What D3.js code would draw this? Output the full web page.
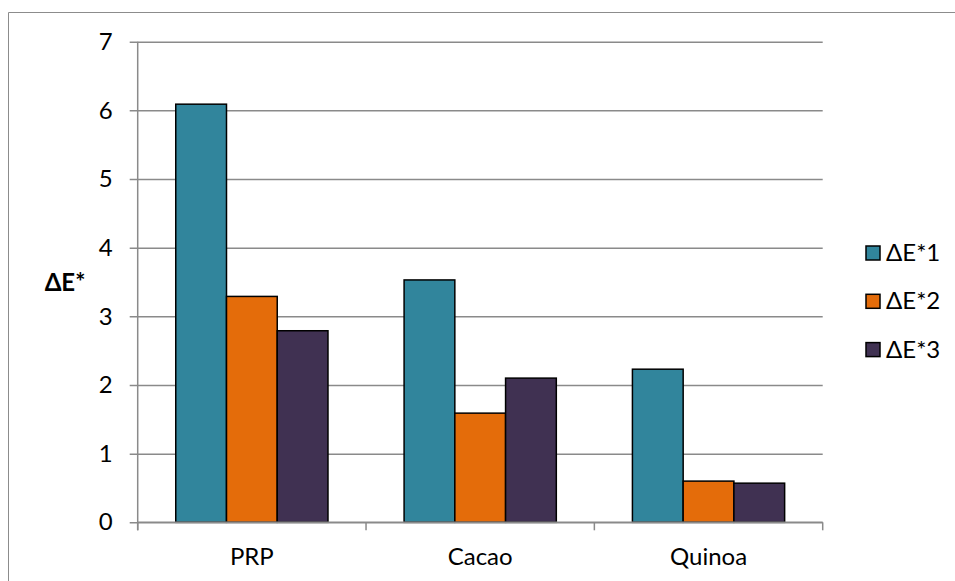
<!DOCTYPE html>
<html>
<head>
<meta charset="utf-8">
<script src="https://cdn.jsdelivr.net/npm/d3@7"></script>
<style>
  html, body { margin: 0; padding: 0; background: #fff; }
  svg { display: block; font-family: Lato, "Open Sans", sans-serif; }
</style>
</head>
<body>
<svg id="chart" width="955" height="581"></svg>
<script>
// Colour difference per sample and measurement
const categories = ["PRP", "Cacao", "Quinoa"];
const seriesNames = ["ΔE*1", "ΔE*2", "ΔE*3"];
const dE1 = [6.09, 3.53, 2.23];
const dE2 = [3.29, 1.59, 0.60];
const dE3 = [2.79, 2.10, 0.57];
const yTicks = [0, 1, 2, 3, 4, 5, 6, 7];
const seriesColors = ["#31859C", "#E46C0A", "#403152"];

const seriesValues = [dE1, dE2, dE3];

const svg = d3.select("#chart");
const plot = { left: 137.7, right: 822.7, top: 41.7, bottom: 522.3 };
const fontSize = 24;

// Outer frame of the chart area
svg.append("path")
  .attr("d", "M8.5,581 V12.5 H955")
  .attr("fill", "none")
  .attr("stroke", "#8c8c8c")
  .attr("stroke-width", 1);

const x = d3.scaleBand().domain(categories).range([plot.left, plot.right]).paddingInner(0).paddingOuter(0);
const y = d3.scaleLinear().domain([0, 7]).range([plot.bottom, plot.top]);
// Bars fill 3 of 4.5 slots in each band (gap width 150%)
const inner = d3.scaleBand().domain(seriesNames)
  .range([x.bandwidth() * 0.75 / 4.5, x.bandwidth() - x.bandwidth() * 0.75 / 4.5]);

// Horizontal gridlines with tick stubs extending left
const yAxis = d3.axisLeft(y).tickValues(yTicks)
  .tickSize(-(plot.right - plot.left)).tickPadding(17).tickFormat(d3.format("d"));
const gy = svg.append("g").attr("transform", `translate(${plot.left},0)`).call(yAxis);
gy.select(".domain").remove();
gy.selectAll(".tick line")
  .attr("x1", -8)
  .attr("stroke", "#8a8a8a").attr("stroke-width", 1.5);
gy.selectAll(".tick text")
  .attr("x", -25)
  .attr("fill", "#000").attr("font-size", fontSize)
  .attr("font-family", "Lato, sans-serif");

// Vertical value axis line
svg.append("line")
  .attr("x1", plot.left).attr("x2", plot.left)
  .attr("y1", plot.top).attr("y2", plot.bottom + 8)
  .attr("stroke", "#8a8a8a").attr("stroke-width", 1.5);

// Bars
const groups = svg.append("g").selectAll("g")
  .data(categories).join("g")
  .attr("transform", d => `translate(${x(d)},0)`);
groups.selectAll("rect")
  .data((c, i) => seriesNames.map((s, k) => ({ s, k, v: seriesValues[k][i] })))
  .join("rect")
  .attr("x", d => inner(d.s))
  .attr("width", inner.bandwidth())
  .attr("y", d => y(d.v))
  .attr("height", d => y(0) - y(d.v))
  .attr("fill", d => seriesColors[d.k])
  .attr("stroke", "#000").attr("stroke-width", 1.5);

// Category axis with boundary ticks
const xAxisLine = svg.append("g");
xAxisLine.append("line")
  .attr("x1", plot.left).attr("x2", plot.right)
  .attr("y1", plot.bottom).attr("y2", plot.bottom)
  .attr("stroke", "#8a8a8a").attr("stroke-width", 1.5);
const boundaries = categories.map(c => x(c)).concat([x(categories[categories.length - 1]) + x.bandwidth()]);
xAxisLine.selectAll("line.b").data(boundaries).join("line")
  .attr("class", "b")
  .attr("x1", d => d).attr("x2", d => d)
  .attr("y1", plot.bottom).attr("y2", plot.bottom + 8)
  .attr("stroke", "#8a8a8a").attr("stroke-width", 1.5);
xAxisLine.selectAll("text").data(categories).join("text")
  .attr("x", d => x(d) + x.bandwidth() / 2)
  .attr("y", 565)
  .attr("text-anchor", "middle")
  .attr("font-size", fontSize)
  .attr("fill", "#000")
  .text(d => d);

// Value axis title
svg.append("text")
  .attr("x", 65).attr("y", 291)
  .attr("text-anchor", "middle")
  .attr("font-size", fontSize).attr("font-weight", "bold")
  .attr("fill", "#000")
  .text("ΔE*");

// Legend
const legend = svg.append("g").selectAll("g")
  .data(seriesNames).join("g")
  .attr("transform", (d, i) => `translate(866,${246 + i * 48.3})`);
legend.append("rect")
  .attr("width", 14).attr("height", 14)
  .attr("fill", (d, i) => seriesColors[i])
  .attr("stroke", "#000").attr("stroke-width", 1.5);
legend.append("text")
  .attr("x", 20).attr("y", 15)
  .attr("font-size", fontSize).attr("fill", "#000")
  .text(d => d);
</script>
</body>
</html>
